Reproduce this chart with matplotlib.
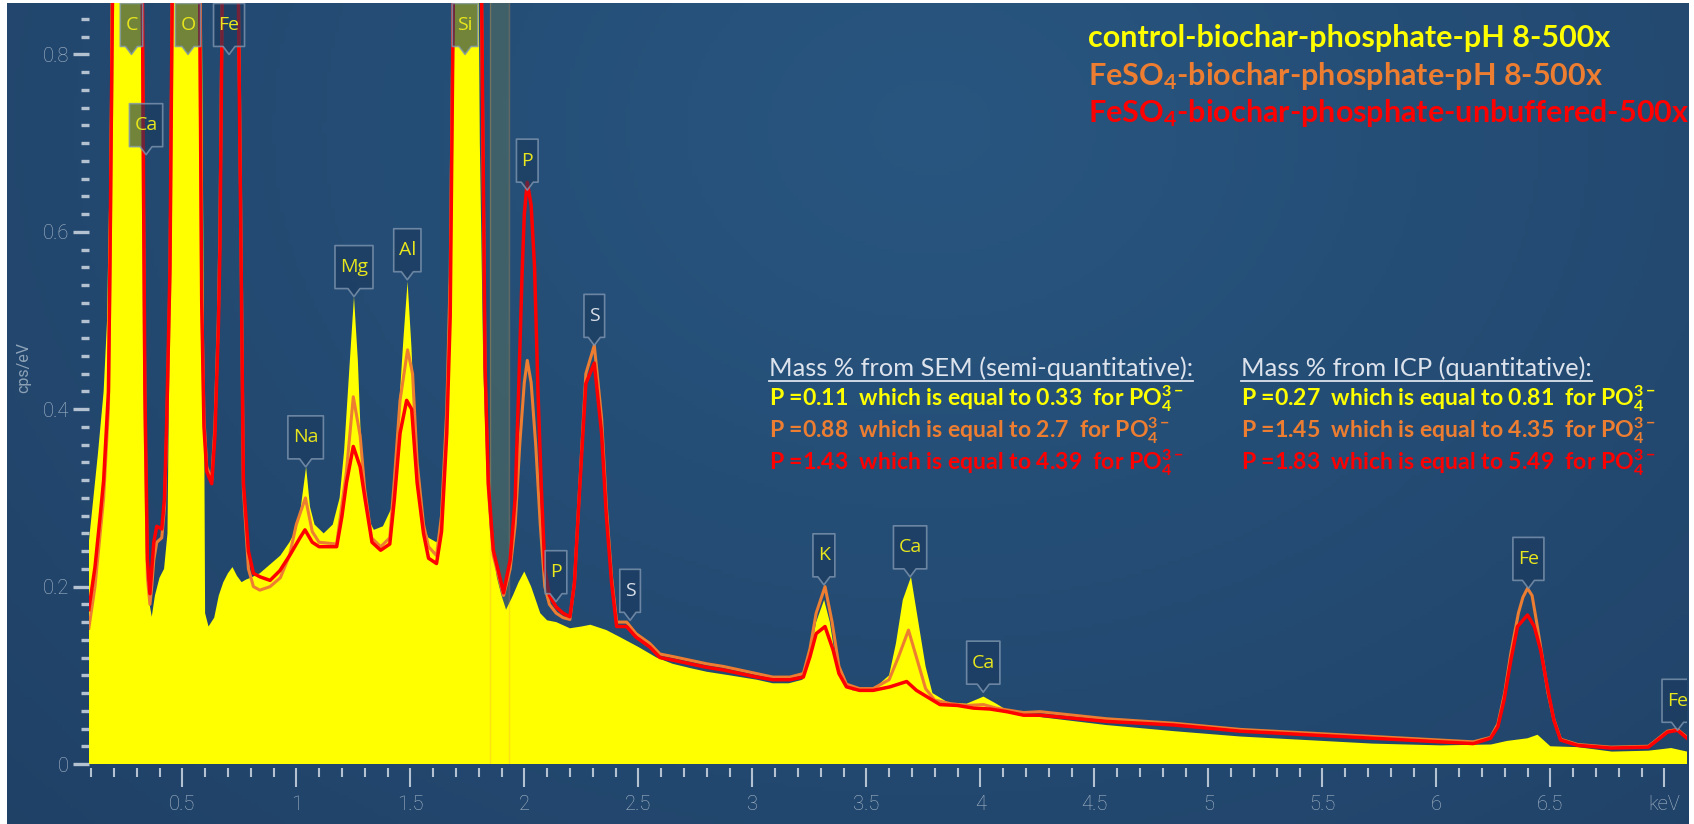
import matplotlib
matplotlib.use('Agg')
import matplotlib.pyplot as plt
import matplotlib.transforms as mtransforms
from matplotlib.patches import Polygon
from matplotlib.lines import Line2D
from matplotlib.ticker import FixedLocator, FuncFormatter
import numpy as np

# EDS spectra, energy in keV and intensity in cps/eV
ctrl_kev = [0.09, 0.11, 0.13, 0.155, 0.17, 0.18, 0.19, 0.22, 0.26, 0.30, 0.32, 0.33, 0.34, 0.35,
            0.366, 0.38, 0.40, 0.42, 0.435, 0.445, 0.455, 0.50, 0.55, 0.58, 0.592, 0.60, 0.615, 0.64,
            0.66, 0.68, 0.70, 0.72, 0.74, 0.76, 0.78, 0.80, 0.84, 0.885, 0.93, 0.97, 1.00, 1.02,
            1.043, 1.06, 1.08, 1.12, 1.16, 1.19, 1.21, 1.235, 1.253, 1.27, 1.285, 1.31, 1.34, 1.38,
            1.42, 1.45, 1.47, 1.488, 1.505, 1.525, 1.55, 1.58, 1.615, 1.64, 1.66, 1.68, 1.695, 1.74,
            1.79, 1.805, 1.82, 1.835, 1.85, 1.88, 1.90, 1.92, 1.95, 1.975, 2.00, 2.03, 2.07, 2.10,
            2.14, 2.20, 2.25, 2.29, 2.36, 2.42, 2.50, 2.58, 2.65, 2.73, 2.80, 2.90, 3.02, 3.09, 3.16,
            3.22, 3.25, 3.28, 3.315, 3.34, 3.37, 3.40, 3.44, 3.53, 3.60, 3.63, 3.66, 3.696, 3.72,
            3.76, 3.79, 3.86, 3.94, 4.014, 4.07, 4.14, 4.26, 4.55, 4.85, 5.14, 5.43, 5.72, 6.02,
            6.24, 6.31, 6.40, 6.444, 6.50, 6.62, 6.77, 6.93, 7.03, 7.10]
ctrl_cps = [0.25, 0.30, 0.35, 0.42, 0.50, 0.65, 1.00, 1.60, 1.90, 1.60, 1.10, 0.60, 0.24, 0.19,
            0.166, 0.19, 0.21, 0.22, 0.26, 0.50, 1.00, 2.00, 1.80, 1.10, 0.60, 0.17, 0.155, 0.165,
            0.19, 0.205, 0.215, 0.222, 0.212, 0.205, 0.208, 0.21, 0.215, 0.225, 0.235, 0.25, 0.265, 0.29,
            0.335, 0.29, 0.27, 0.26, 0.27, 0.30, 0.354, 0.455, 0.527, 0.455, 0.354, 0.279, 0.264, 0.268,
            0.29, 0.40, 0.48, 0.544, 0.47, 0.35, 0.27, 0.255, 0.25, 0.27, 0.40, 0.70, 1.00, 1.70,
            1.20, 0.70, 0.45, 0.33, 0.26, 0.21, 0.19, 0.174, 0.19, 0.205, 0.217, 0.20, 0.17, 0.162,
            0.16, 0.153, 0.155, 0.157, 0.151, 0.143, 0.132, 0.12, 0.113, 0.108, 0.104, 0.10, 0.095, 0.091, 0.091,
            0.095, 0.12, 0.16, 0.185, 0.16, 0.11, 0.09, 0.083, 0.084, 0.10, 0.136, 0.185, 0.211, 0.173,
            0.11, 0.08, 0.069, 0.068, 0.076, 0.068, 0.057, 0.053, 0.044, 0.037, 0.031, 0.027, 0.023, 0.021,
            0.022, 0.026, 0.029, 0.033, 0.02, 0.019, 0.014, 0.015, 0.018, 0.014]

ph8_kev = [0.09, 0.117, 0.14, 0.155, 0.176, 0.183, 0.195, 0.22, 0.27, 0.31, 0.322, 0.33, 0.336, 0.347,
           0.358, 0.366, 0.375, 0.388, 0.41, 0.422, 0.432, 0.446, 0.46, 0.52, 0.57, 0.578, 0.585, 0.595,
           0.607, 0.629, 0.643, 0.658, 0.665, 0.68, 0.71, 0.735, 0.746, 0.76, 0.768, 0.79, 0.812, 0.84,
           0.885, 0.93, 0.97, 1.00, 1.04, 1.07, 1.10, 1.177, 1.22, 1.25, 1.28, 1.30, 1.33, 1.37,
           1.41, 1.43, 1.455, 1.488, 1.51, 1.53, 1.558, 1.58, 1.615, 1.637, 1.66, 1.675, 1.69, 1.74,
           1.80, 1.813, 1.828, 1.842, 1.864, 1.909, 1.938, 1.96, 1.98, 2.00, 2.013, 2.03, 2.05, 2.07,
           2.09, 2.11, 2.14, 2.17, 2.20, 2.22, 2.24, 2.27, 2.307, 2.339, 2.36, 2.383, 2.405, 2.449,
           2.49, 2.55, 2.595, 2.654, 2.728, 2.80, 2.873, 2.946, 3.02, 3.09, 3.165, 3.224, 3.253, 3.28,
           3.319, 3.35, 3.38, 3.413, 3.47, 3.53, 3.60, 3.64, 3.685, 3.72, 3.76, 3.80, 3.87, 3.94,
           4.014, 4.07, 4.116, 4.19, 4.262, 4.554, 4.847, 5.14, 5.43, 5.725, 6.02, 6.162, 6.238, 6.27,
           6.30, 6.327, 6.36, 6.38, 6.40, 6.42, 6.44, 6.465, 6.49, 6.516, 6.545, 6.62, 6.766, 6.93,
           6.97, 7.014, 7.058, 7.10]
ph8_cps = [0.153, 0.20, 0.26, 0.30, 0.40, 0.55, 0.88, 1.40, 1.90, 1.40, 0.95, 0.62, 0.40, 0.21,
           0.18, 0.20, 0.23, 0.25, 0.255, 0.29, 0.38, 0.55, 1.00, 2.10, 1.15, 0.80, 0.53, 0.39,
           0.335, 0.32, 0.38, 0.50, 0.60, 1.00, 1.25, 1.00, 0.88, 0.53, 0.31, 0.22, 0.20, 0.196,
           0.20, 0.21, 0.235, 0.27, 0.30, 0.262, 0.25, 0.248, 0.33, 0.414, 0.37, 0.31, 0.255, 0.245,
           0.255, 0.32, 0.41, 0.467, 0.44, 0.34, 0.27, 0.245, 0.235, 0.28, 0.40, 0.55, 0.90, 1.45,
           1.00, 0.85, 0.44, 0.31, 0.235, 0.19, 0.22, 0.27, 0.36, 0.43, 0.455, 0.43, 0.36, 0.27,
           0.20, 0.18, 0.17, 0.165, 0.163, 0.205, 0.30, 0.44, 0.472, 0.39, 0.29, 0.21, 0.16, 0.16,
           0.147, 0.136, 0.124, 0.121, 0.117, 0.113, 0.11, 0.106, 0.102, 0.098, 0.098, 0.102, 0.13, 0.17,
           0.20, 0.16, 0.11, 0.09, 0.085, 0.085, 0.095, 0.12, 0.151, 0.12, 0.085, 0.072, 0.068, 0.066,
           0.067, 0.063, 0.061, 0.058, 0.059, 0.051, 0.046, 0.039, 0.035, 0.031, 0.027, 0.025, 0.03, 0.045,
           0.08, 0.125, 0.17, 0.188, 0.198, 0.19, 0.16, 0.12, 0.08, 0.05, 0.028, 0.022, 0.019, 0.02,
           0.028, 0.037, 0.039, 0.03]

unbuf_kev = [0.09, 0.117, 0.14, 0.155, 0.176, 0.183, 0.195, 0.22, 0.27, 0.31, 0.322, 0.33, 0.336, 0.347,
             0.358, 0.366, 0.375, 0.388, 0.41, 0.422, 0.432, 0.446, 0.46, 0.52, 0.57, 0.578, 0.585, 0.595,
             0.607, 0.629, 0.643, 0.658, 0.665, 0.68, 0.71, 0.735, 0.746, 0.76, 0.768, 0.79, 0.812, 0.841,
             0.885, 0.928, 0.973, 1.016, 1.038, 1.07, 1.10, 1.177, 1.20, 1.22, 1.25, 1.28, 1.302, 1.332,
             1.37, 1.41, 1.43, 1.455, 1.484, 1.506, 1.53, 1.558, 1.58, 1.615, 1.637, 1.66, 1.675, 1.69,
             1.74, 1.80, 1.813, 1.828, 1.842, 1.864, 1.909, 1.938, 1.96, 1.975, 1.99, 2.00, 2.013, 2.03,
             2.045, 2.06, 2.075, 2.09, 2.11, 2.14, 2.17, 2.20, 2.22, 2.24, 2.27, 2.307, 2.339, 2.36,
             2.383, 2.405, 2.449, 2.49, 2.55, 2.595, 2.654, 2.728, 2.80, 2.873, 2.946, 3.02, 3.09, 3.165,
             3.224, 3.253, 3.28, 3.319, 3.355, 3.38, 3.413, 3.47, 3.53, 3.604, 3.677, 3.72, 3.765, 3.823,
             3.90, 3.97, 4.042, 4.116, 4.19, 4.262, 4.554, 4.847, 5.14, 5.43, 5.725, 6.02, 6.162, 6.238,
             6.27, 6.297, 6.327, 6.356, 6.40, 6.43, 6.458, 6.487, 6.516, 6.545, 6.62, 6.766, 6.93, 6.97,
             7.014, 7.058, 7.10]
unbuf_cps = [0.174, 0.222, 0.28, 0.32, 0.42, 0.57, 0.90, 1.50, 2.00, 1.50, 1.00, 0.65, 0.42, 0.23,
             0.192, 0.22, 0.25, 0.268, 0.265, 0.30, 0.39, 0.56, 1.00, 2.20, 1.20, 0.80, 0.523, 0.38,
             0.33, 0.316, 0.37, 0.49, 0.58, 1.00, 1.30, 1.00, 0.86, 0.516, 0.317, 0.24, 0.215, 0.211,
             0.207, 0.218, 0.236, 0.255, 0.264, 0.25, 0.245, 0.245, 0.279, 0.317, 0.358, 0.335, 0.298, 0.25,
             0.241, 0.248, 0.298, 0.373, 0.41, 0.40, 0.317, 0.26, 0.232, 0.226, 0.262, 0.373, 0.504, 0.90,
             1.50, 1.00, 0.86, 0.448, 0.317, 0.241, 0.193, 0.23, 0.30, 0.42, 0.55, 0.62, 0.656, 0.63,
             0.56, 0.42, 0.31, 0.22, 0.19, 0.177, 0.17, 0.166, 0.204, 0.298, 0.429, 0.452, 0.373, 0.279,
             0.204, 0.155, 0.155, 0.143, 0.132, 0.12, 0.117, 0.113, 0.109, 0.106, 0.102, 0.098, 0.095, 0.095,
             0.098, 0.121, 0.147, 0.155, 0.128, 0.102, 0.087, 0.083, 0.083, 0.087, 0.093, 0.083, 0.076, 0.067,
             0.066, 0.063, 0.062, 0.059, 0.055, 0.055, 0.048, 0.044, 0.037, 0.033, 0.029, 0.025, 0.023, 0.029,
             0.042, 0.072, 0.117, 0.155, 0.168, 0.155, 0.128, 0.087, 0.049, 0.027, 0.021, 0.018, 0.019, 0.027,
             0.036, 0.038, 0.029]

series_names = ['control-biochar-phosphate-pH 8-500x',
                'FeSO$_4$-biochar-phosphate-pH 8-500x',
                'FeSO$_4$-biochar-phosphate-unbuffered-500x']
series_colors = ['#ffff00', '#ed7d31', '#ff0000']

# element markers: symbol, line energy, height of the marker tip
peak_elems = ['C', 'Ca', 'O', 'Fe', 'Si', 'Na', 'Mg', 'Al', 'P', 'S', 'P', 'S', 'K', 'Ca', 'Ca', 'Fe', 'Fe']
peak_kev = [0.277, 0.341, 0.525, 0.705, 1.740, 1.041, 1.253, 1.487, 2.013, 2.307, 2.139, 2.464,
            3.314, 3.692, 4.013, 6.404, 7.058]
peak_tip = [0.80, 0.687, 0.80, 0.80, 0.80, 0.335, 0.527, 0.546, 0.647, 0.472, 0.183, 0.162,
            0.202, 0.211, 0.081, 0.198, 0.038]

# highlighted energy window
roi_kev = (1.849, 1.934)

# phosphorus mass %, and the equivalent phosphate
sem_p = [0.11, 0.88, 1.43]
sem_po4 = [0.33, 2.7, 4.39]
icp_p = [0.27, 1.45, 1.83]
icp_po4 = [0.81, 4.35, 5.49]

plt.rcParams['font.family'] = 'Roboto'
plt.rcParams['mathtext.fontset'] = 'custom'
plt.rcParams['mathtext.rm'] = 'Lato:bold'
plt.rcParams['mathtext.it'] = 'Lato:bold:italic'
plt.rcParams['mathtext.bf'] = 'Lato:bold'
plt.rcParams['mathtext.default'] = 'rm'

W, H = 1694, 824
fig = plt.figure(figsize=(W / 100, H / 100), dpi=100)
fig.patch.set_facecolor('white')

# dark blue panel with a soft glow near the top
bg = fig.add_axes([7 / W, 0, (1688 - 7) / W, (H - 3) / H])
bg.axis('off')
yy, xx = np.mgrid[0:1:200j, 0:1:400j]
d = np.sqrt(((xx - 0.55) * 1.6) ** 2 + (yy - 0.85) ** 2)
t = np.clip(d / 1.4, 0, 1)[..., None]
c0 = np.array([40, 86, 128]) / 255
c1 = np.array([31, 62, 99]) / 255
bg.imshow(c0 * (1 - t) + c1 * t, origin='lower', extent=(0, 1, 0, 1), aspect='auto')
bg.set_xlim(0, 1)
bg.set_ylim(0, 1)

# plot area: 0.09-7.1 keV, 0-0.858 cps/eV
x0 = 68.3 + 228 * 0.09
x1 = 68.3 + 228 * 7.1
ax = fig.add_axes([x0 / W, (H - 764) / H, (x1 - x0) / W, 761 / H])
ax.set_facecolor('none')
ax.set_xlim(0.09, 7.1)
ax.set_ylim(0, 0.858)
for s in ax.spines.values():
    s.set_visible(False)
ax.spines['bottom'].set_position(('outward', 3))

tick_col = '#b3c1d1'
lab_col = '#aab9ca'
ax.xaxis.set_major_locator(FixedLocator(np.arange(0.5, 7.01, 0.5)))
ax.xaxis.set_minor_locator(FixedLocator(np.arange(0.1, 7.01, 0.1)))
ax.xaxis.set_major_formatter(FuncFormatter(lambda v, p: 'keV' if abs(v - 7) < 1e-6 else f'{v:g}'))
ax.yaxis.set_major_locator(FixedLocator([0, 0.2, 0.4, 0.6, 0.8]))
ax.yaxis.set_minor_locator(FixedLocator(np.arange(0.02, 0.85, 0.02)))
ax.yaxis.set_major_formatter(FuncFormatter(lambda v, p: f'{v:g}'))
ax.tick_params(axis='x', which='major', length=13.5, width=1.5, color=tick_col, pad=6,
               labelsize=14.5, labelcolor=lab_col)
ax.tick_params(axis='x', which='minor', length=6.5, width=1.5, color=tick_col)
ax.tick_params(axis='y', which='major', length=11.5, width=2.4, color=tick_col, pad=3,
               labelsize=14.5, labelcolor=lab_col)
ax.tick_params(axis='y', which='minor', length=6, width=2.4, color=tick_col)
for lab in ax.get_xticklabels() + ax.get_yticklabels():
    lab.set_fontweight('light')

fig.text(24 / W, 1 - 367 / H, 'cps/eV', rotation=90, ha='center', va='center',
         fontsize=11.5, color='#8ea2b7')

ax.axvspan(*roi_kev, color='#56705f', alpha=0.55, lw=0, zorder=1)
for e in roi_kev:
    ax.axvline(e, color='#f0a040', alpha=0.3, lw=1, zorder=2.5)

ax.fill_between(ctrl_kev, ctrl_cps, 0, color=series_colors[0], lw=0, zorder=2)
ax.plot(ph8_kev, ph8_cps, color=series_colors[1], lw=2.2, zorder=3)
ax.plot(unbuf_kev, unbuf_cps, color=series_colors[2], lw=2.5, zorder=4)

# element tags: a small box with a pointer down to the peak
box_h = 43 / 100
gap = 8 / 100
tags = []
for name, e, tip in zip(peak_elems, peak_kev, peak_tip):
    tr = fig.dpi_scale_trans + mtransforms.ScaledTranslation(e, tip, ax.transData)
    col = '#d8dee8' if name == 'S' else '#e8e61c'
    txt = ax.text(0, gap + box_h / 2, name, transform=tr, ha='center', va='center',
                  fontsize=14, color=col, family='Open Sans', zorder=7)
    tags.append((txt, tr))

fig.canvas.draw()
for txt, tr in tags:
    w = (txt.get_window_extent().width + 10) / 100 / 2
    verts = [(0, 0), (-0.06, gap), (-w, gap), (-w, gap + box_h), (w, gap + box_h), (w, gap), (0.06, gap)]
    ax.add_patch(Polygon(verts, closed=True, transform=tr, facecolor='#1b395d', alpha=0.62,
                         edgecolor='none', zorder=5))
    ax.add_patch(Polygon(verts, closed=True, transform=tr, facecolor='none',
                         edgecolor='#7f96b0', lw=1.2, alpha=0.8, joinstyle='round', zorder=6))


def put(x, y, s, **kw):
    return fig.text(x / W, 1 - y / H, s, ha='left', va='center', **kw)


# legend
for i, (name, col) in enumerate(zip(series_names, series_colors)):
    put(1088, 38 + 37.5 * i, name, color=col, fontsize=22, fontweight='bold', family='Lato')

# mass % from the two methods
heads = ['Mass % from SEM (semi-quantitative):', 'Mass % from ICP (quantitative):']
for x, head, p_vals, po4_vals in [(769, heads[0], sem_p, sem_po4), (1241, heads[1], icp_p, icp_po4)]:
    h = put(x, 368, head, color='#dde3ec', fontsize=18.3, family='Lato')
    for i, (p, po4) in enumerate(zip(p_vals, po4_vals)):
        put(x, 399 + 32 * i, f'P ={p:g}  which is equal to {po4:g}  for PO$_4^{{3-}}$',
            color=series_colors[i], fontsize=16.6, fontweight='bold', family='Lato')
    fig.canvas.draw()
    bb = h.get_window_extent()
    inv = fig.transFigure.inverted()
    (ux0, uy), (ux1, _) = inv.transform([(bb.x0, bb.y0 - 1), (bb.x1, bb.y0 - 1)])
    fig.add_artist(Line2D([ux0, ux1], [uy, uy], transform=fig.transFigure, color='#dde3ec', lw=1.3))

fig.savefig('out.png', dpi=100)
